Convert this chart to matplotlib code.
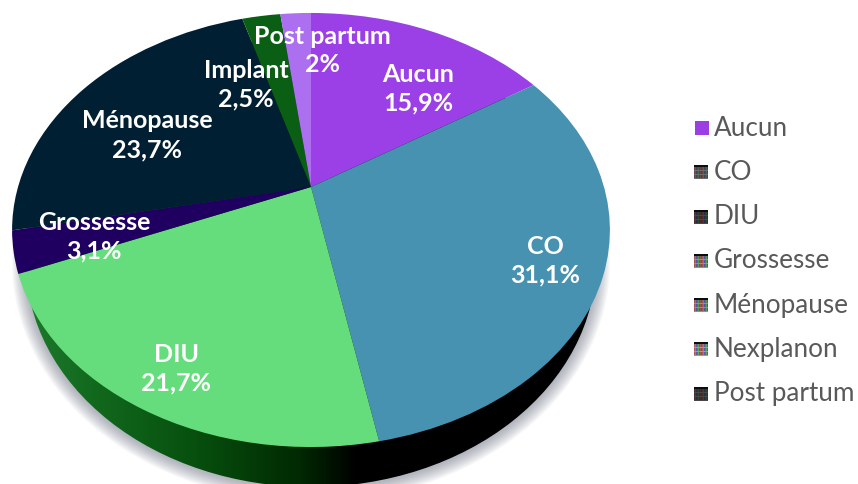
import numpy as np
import matplotlib
matplotlib.use('Agg')
import matplotlib.pyplot as plt
from matplotlib.patches import Ellipse
from matplotlib.transforms import Transform
from matplotlib.colors import LinearSegmentedColormap

# Slices, clockwise from 12 o'clock
slice_names = ['Aucun', 'CO', 'DIU', 'Grossesse', 'Ménopause', 'Implant', 'Post partum']
slice_values = [15.9, 31.1, 21.7, 3.1, 23.7, 2.5, 2.0]
slice_colors = ['#9B40E6', '#4792B0', '#66DD7C', '#1F0060', '#001F33', '#0A5F14', '#AC6FF0']
label_anchors = [(418, 74), (545, 246), (176, 354), (94, 222), (147, 121), (246, 70), (322, 36)]

legend_names = ['Aucun', 'CO', 'DIU', 'Grossesse', 'Ménopause', 'Nexplanon', 'Post partum']
legend_levels = [None, 0.45, 0.3, 0.6, 0.6, 0.65, 0.3]

plt.rcParams['font.family'] = ['Lato', 'DejaVu Sans']


# Tilted disc: the pie is drawn on the unit circle, this maps it to pixels
class TiltedDisc(Transform):
    input_dims = 2
    output_dims = 2

    def transform_non_affine(self, values):
        xy = np.asarray(values, dtype=float)
        w = 1 + 0.198 * xy[:, 1]
        return np.column_stack((311 + 293 * xy[:, 0] / w, 187 - 208.5 * xy[:, 1] / w))


fig = plt.figure(figsize=(8.58, 4.84), dpi=100)
ax = fig.add_axes([0, 0, 1, 1])

wedges, _ = ax.pie(slice_values, colors=slice_colors, startangle=90, counterclock=False)
tilt = TiltedDisc() + ax.transData
for wedge in wedges:
    wedge.set_transform(tilt)
    wedge.set_zorder(5)

# Soft shadow under the rim
for grow in range(14, 0, -1):
    ax.add_patch(Ellipse((311, 263), 570 + 2 * grow, 450 + 2 * grow, fc='#5A6478', ec='none',
                         alpha=0.04, zorder=1))

# Rim of the disc, green on the left going to black
rim = Ellipse((311, 262), 570, 450, fc='none', ec='none', zorder=2)
ax.add_patch(rim)
rim_cmap = LinearSegmentedColormap.from_list(
    'rim', [(0, '#1F7A2C'), (0.12, '#126A1E'), (0.3, '#07500E'), (0.48, '#012A02'), (0.58, '#000000'), (1, '#000000')])
img = ax.imshow(np.linspace(0, 1, 600).reshape(1, -1), cmap=rim_cmap, extent=(20, 600, 490, 30),
                aspect='auto', zorder=2)
img.set_clip_path(rim)

# Slice labels, name and value on separate lines
for name, value, (x, y) in zip(slice_names, slice_values, label_anchors):
    percent = f'{value:g}%'.replace('.', ',')
    ax.text(x, y, name, color='white', fontsize=18, fontweight='bold', ha='center', va='center', zorder=6)
    ax.text(x, y + 29, percent, color='white', fontsize=18, fontweight='bold', ha='center', va='center', zorder=6)

# Legend, the swatches are small colour-fringed grids in the reference
for i, (name, level) in enumerate(zip(legend_names, legend_levels)):
    y = 128 + i * 44.3
    if level is None:
        swatch = np.array([[[0.61, 0.25, 0.90]]])
    else:
        swatch = np.full((14, 15, 3), level * 0.55)
        for col in range(15):
            swatch[:, col, col % 3] += level * 0.45
        swatch[1::4, :] = level * 0.95
        swatch[:2, :] = 0.05
        swatch = np.clip(swatch, 0, 1)
    left = 695 if level is None else 694
    ax.imshow(swatch, extent=(left, left + 14, y + 7, y - 7), aspect='auto', zorder=3,
              interpolation='nearest')
    ax.text(714, y, name, color='#595959', fontsize=18.8, ha='left', va='center', zorder=3)

ax.set_aspect('auto')
ax.set_xlim(0, 858)
ax.set_ylim(484, 0)
ax.axis('off')

fig.savefig('out.png', dpi=100)
